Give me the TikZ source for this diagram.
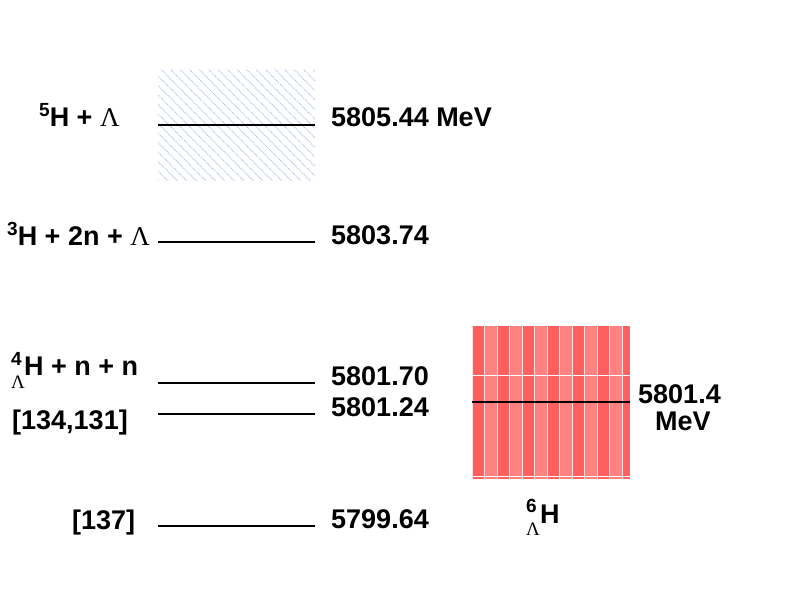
\documentclass[tikz,border=0pt]{standalone}
\usepackage{fontspec}
\setmainfont{Liberation Sans}
\newfontfamily\lamfont{Liberation Serif}
\newcommand\lam{{\lamfont\fontseries{m}\selectfont Λ}}
\newcommand\supsz{\fontsize{19}{19}\selectfont\bfseries}
\newcommand\subsz{\fontsize{19}{19}\selectfont}
\newcommand\presup[1]{\raisebox{10.5pt}{\supsz #1}}
\newcommand\prebox[2]{\makebox[#2][l]{\ooalign{\raisebox{10.5pt}{\supsz #1}\cr\raisebox{-12.5pt}{\subsz\lam}\hfil\cr}}}
\definecolor{hatchblue}{RGB}{170,185,232}
\definecolor{redA}{RGB}{255,95,95}
\definecolor{redB}{RGB}{255,130,130}
\tikzset{
  lbl/.style={inner sep=0pt, font=\fontsize{27}{27}\selectfont\bfseries},
  level/.style={line width=1.8pt, black},
}
\begin{document}
\begin{tikzpicture}[x=1pt,y=-1pt]
\useasboundingbox (0,0) rectangle (788,596);
% blue hatched band
\begin{scope}
  \clip (158,70) rectangle (315,181);
  \foreach \i in {-15,...,32}{
    \draw[hatchblue, line width=0.8pt, dash pattern=on 0.9pt off 0.9pt] (158+9.5*\i-120,70) -- ++(240,240);
  }
\end{scope}
% red textured box
\fill[redA] (472,326) rectangle (630,479);
\foreach \k in {0,...,5}{
  \fill[redB] (485+25*\k,326) rectangle (497.5+25*\k,479);
}
\foreach \k in {0,...,12}{
  \draw[white, line width=0.6pt, opacity=0.8] (472+12.5*\k,326) -- (472+12.5*\k,479);
}
\draw[white, line width=0.7pt] (472,375) -- (630,375);
\draw[white, line width=0.7pt] (472,476) -- (630,476);
% level lines
\coordinate (a1) at (158,125); \coordinate (b1) at (315,125);
\coordinate (a2) at (158,242); \coordinate (b2) at (315,242);
\coordinate (a3) at (158,383); \coordinate (b3) at (315,383);
\coordinate (a4) at (158,414); \coordinate (b4) at (315,414);
\coordinate (a5) at (158,526); \coordinate (b5) at (315,526);
\coordinate (a6) at (472,402); \coordinate (b6) at (630,402);
\foreach \n in {1,...,6}{ \draw[level] (a\n) -- (b\n); }
% energy values
\node[lbl, anchor=base west] (e1) at (331,127) {5805.44 MeV};
\node[lbl, anchor=base west] (e2) at (331,245) {5803.74};
\node[lbl, anchor=base west] (e3) at (331,385) {5801.70};
\node[lbl, anchor=base west] (e4) at (331,416) {5801.24};
\node[lbl, anchor=base west] (e5) at (331,528) {5799.64};
\node[lbl, anchor=base west] (e6) at (638,403) {5801.4};
\node[lbl, anchor=base] (e7) at (683,430) {MeV};
% channel labels
\node[lbl, anchor=base west] (c1) at (39,127) {\presup{5}H + \lam};
\node[lbl, anchor=base west] (c2) at (7,246) {\presup{3}H + 2n + \lam};
\node[lbl, anchor=base west] (c3) at (11,376) {\prebox{4}{13pt}H + n + n};
\node[lbl, anchor=base west] (c4) at (12,429) {[134,131]};
\node[lbl, anchor=base west] (c5) at (72,529) {[137]};
\node[lbl, anchor=base west] (c6) at (526,523) {\prebox{6}{14pt}H};
\end{tikzpicture}
\end{document}
